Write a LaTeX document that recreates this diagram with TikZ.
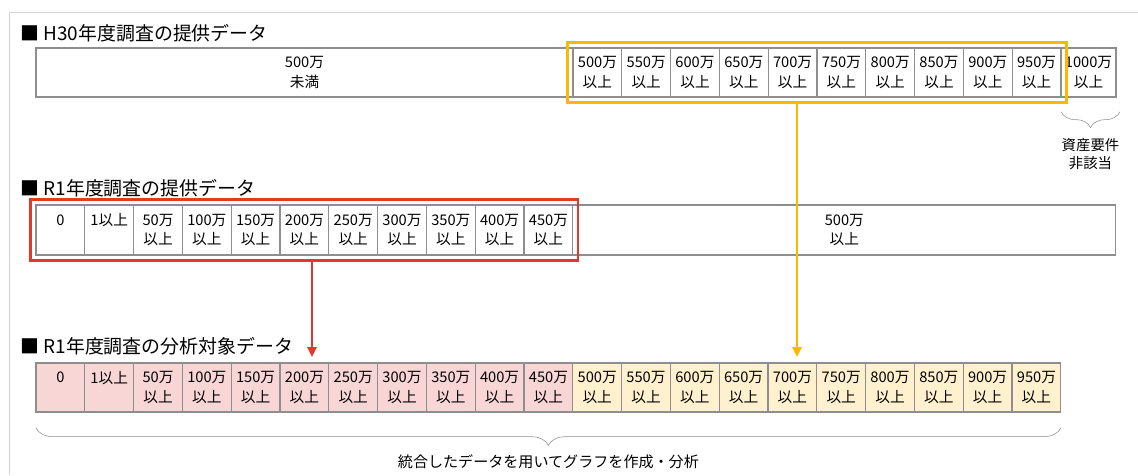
\documentclass[tikz,border=0pt]{standalone}
\usepackage{fontspec}
\setmainfont{Noto Sans CJK JP}
\usetikzlibrary{positioning,fit,decorations.pathreplacing,arrows.meta}

\definecolor{cellgray}{HTML}{8E8E8E}
\definecolor{framegray}{HTML}{D4D4D4}
\definecolor{lowpink}{HTML}{F8D6D6}
\definecolor{highyellow}{HTML}{FFF1CE}
\definecolor{selorange}{HTML}{FFB700}
\definecolor{selred}{HTML}{E3392C}

\begin{document}
\begin{tikzpicture}[x=0.75pt,y=-0.75pt,semithick,
    cell/.style={draw=cellgray,line width=0.9pt,outer sep=0pt,inner sep=0pt,
      minimum width=36.6pt,minimum height=36.75pt,align=center,
      font=\fontsize{11}{14.3}\selectfont},
    head/.style={anchor=west,inner sep=0pt,font=\fontsize{14.2}{16}\selectfont},
    brace/.style={draw=cellgray,thin,decorate,decoration={brace,mirror,amplitude=#1}},
    pick/.style={line width=1.7pt,-{Triangle[length=7.5pt,width=7pt]}}]
  \useasboundingbox (0,0) rectangle (1138,475);
  \draw[framegray] (9,475) -- (9,12) -- (1138,12);

  % H30 data
  \node[head] (t1) at (20,33) {■ H30年度調査の提供データ};
  \node[cell,anchor=north west,minimum width=402.75pt] (h0) at (36,48) {500万\\未満};
  \foreach \v [count=\i, evaluate=\i as \j using int(\i-1)] in {500,550,...,950}
    \node[cell,right=0pt of h\j] (h\i) {\v 万\\以上};
  \node[cell,minimum width=41.25pt,right=0pt of h10] (h11) {1000万\\以上};
  \node[draw=selorange,line width=2pt,inner sep=4.3pt,fit=(h1)(h10)] (obox) {};
  \draw[brace=12pt] ([yshift=-11pt]h11.south west) -- ([yshift=-11pt,xshift=3pt]h11.south east)
    node[midway,below=20pt,align=center,inner sep=0pt,
      font=\fontsize{10.8}{13.5}\selectfont] (note) {資産要件\\非該当};

  % R1 data
  \node[head] (t2) at (20,188) {■ R1年度調査の提供データ};
  \node[cell,anchor=north west,minimum height=37.5pt] (s0) at (36,205) {0\\\phantom{以上}};
  \node[cell,minimum height=37.5pt,right=0pt of s0] (s1) {1以上\\\phantom{以上}};
  \foreach \v [count=\i from 2, evaluate=\i as \j using int(\i-1)] in {50,100,...,450}
    \node[cell,minimum height=37.5pt,right=0pt of s\j] (s\i) {\v 万\\以上};
  \node[cell,minimum height=37.5pt,minimum width=407.25pt,right=0pt of s10] (s11) {500万\\以上};
  \node[draw=selred,line width=2pt,inner sep=4pt,fit=(s0)(s10)] (rbox) {};

  % R1 analysis data
  \node[head] (t3) at (20,346) {■ R1年度調査の分析対象データ};
  \node[cell,fill=lowpink,anchor=north west] (a0) at (36,363) {0\\\phantom{以上}};
  \node[cell,fill=lowpink,right=0pt of a0] (a1) {1以上\\\phantom{以上}};
  \foreach \v [count=\i from 2, evaluate=\i as \j using int(\i-1)] in {50,100,...,450}
    \node[cell,fill=lowpink,right=0pt of a\j] (a\i) {\v 万\\以上};
  \foreach \v [count=\i from 11, evaluate=\i as \j using int(\i-1)] in {500,550,...,950}
    \node[cell,fill=highyellow,right=0pt of a\j] (a\i) {\v 万\\以上};

  \coordinate (rtip) at (312,357);
  \coordinate (otip) at (797,357);
  \draw[pick,selred] (rbox.south -| rtip) -- (rtip);
  \draw[pick,selorange] (obox.south -| otip) -- (otip);

  \draw[brace=13pt] ([yshift=-12pt]a0.south west) -- ([yshift=-12pt]a20.south east)
    node[midway,below=20pt,inner sep=0pt,font=\fontsize{11.3}{13}\selectfont] (sum)
    {統合したデータを用いてグラフを作成・分析};
\end{tikzpicture}
\end{document}
